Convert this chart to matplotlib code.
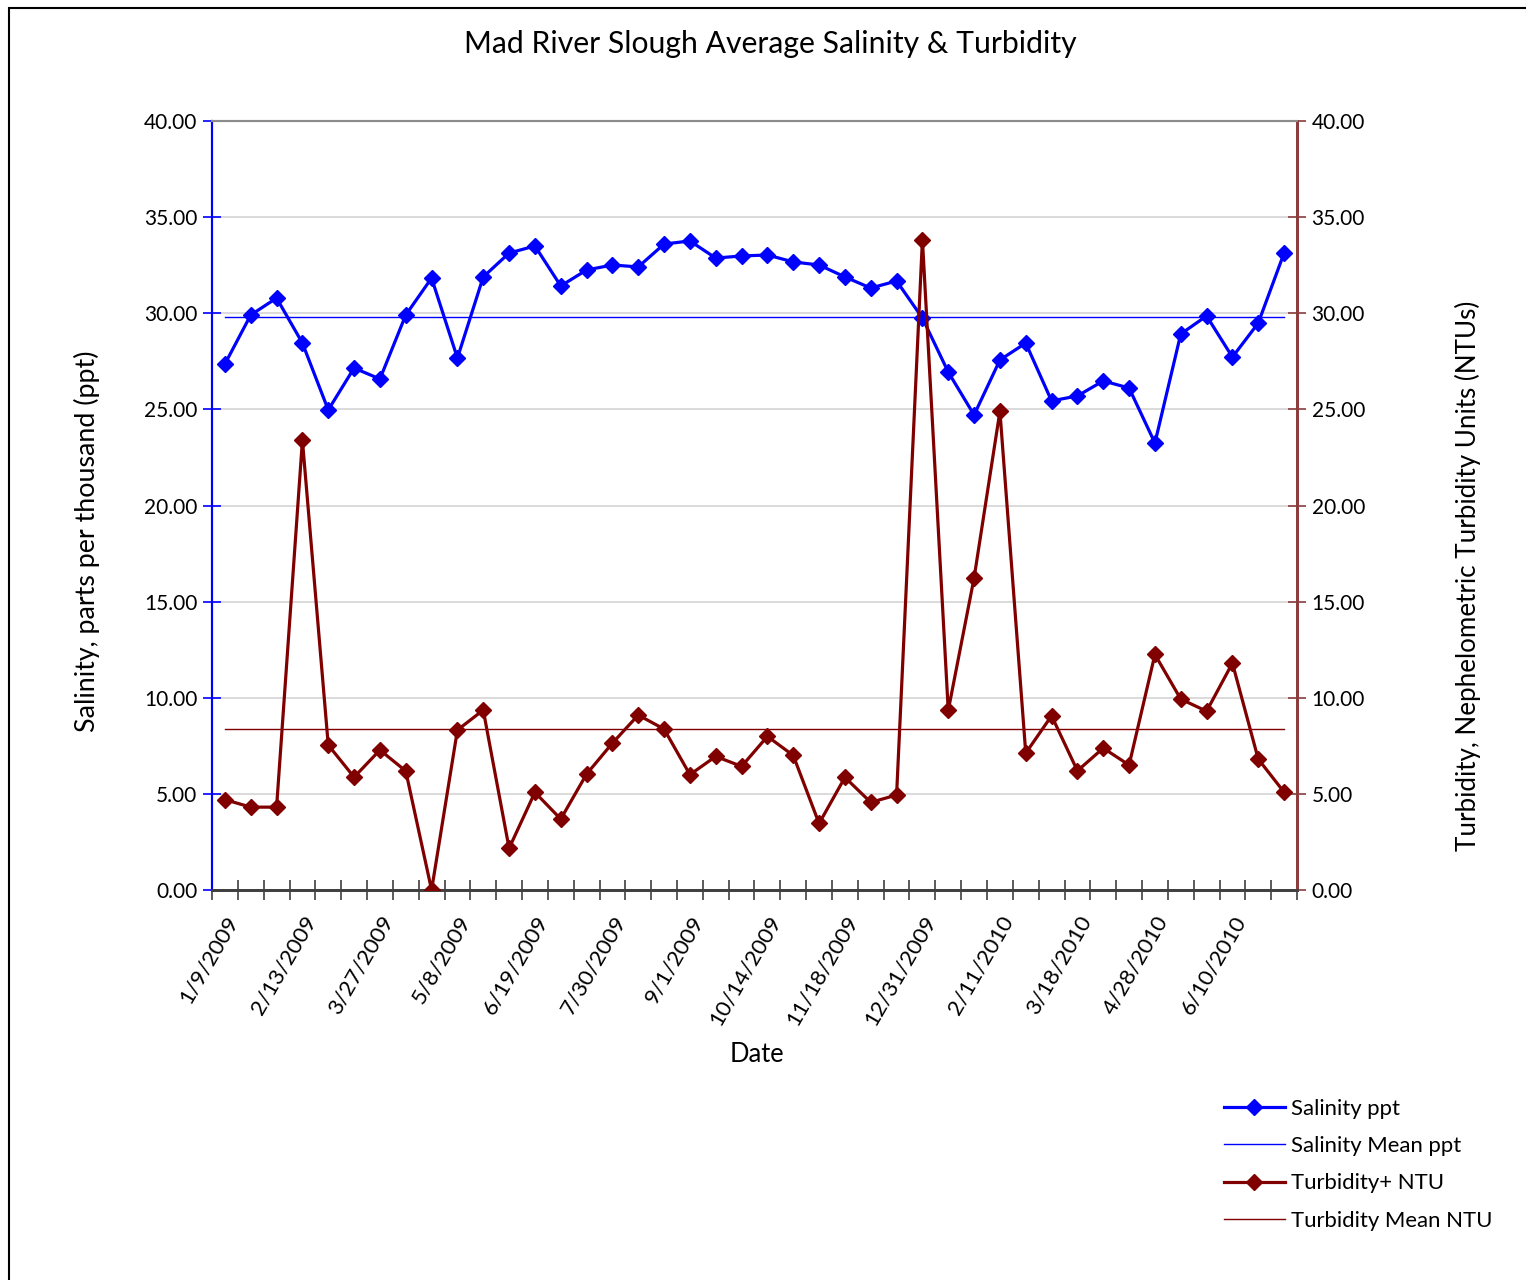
import numpy as np
import matplotlib
matplotlib.use("Agg")
import matplotlib.pyplot as plt
from matplotlib.patches import Rectangle

plt.rcParams['font.family'] = ['Lato', 'DejaVu Sans']

# ---- data ----
tick_labels = ['1/9/2009', '2/13/2009', '3/27/2009', '5/8/2009', '6/19/2009',
               '7/30/2009', '9/1/2009', '10/14/2009', '11/18/2009', '12/31/2009',
               '2/11/2010', '3/18/2010', '4/28/2010', '6/10/2010']
label_every = 3

salinity = [27.36, 29.91, 30.79, 28.45, 24.97, 27.15, 26.58, 29.91, 31.83, 27.67,
            31.89, 33.13, 33.50, 31.42, 32.25, 32.51, 32.41, 33.60, 33.76, 32.87,
            32.98, 33.03, 32.67, 32.51, 31.89, 31.31, 31.68, 29.75, 26.94, 24.71,
            27.57, 28.45, 25.44, 25.70, 26.48, 26.11, 23.25, 28.92, 29.86, 27.72,
            29.49, 33.13]
turbidity = [4.70, 4.31, 4.31, 23.39, 7.54, 5.87, 7.28, 6.19, 0.0, 8.32,
             9.36, 2.17, 5.08, 3.69, 6.03, 7.64, 9.10, 8.37, 6.00, 6.95,
             6.43, 7.99, 7.00, 3.46, 5.86, 4.56, 4.94, 33.83, 9.34, 16.23,
             24.90, 7.12, 9.06, 6.20, 7.38, 6.50, 12.25, 9.93, 9.30, 11.80,
             6.81, 5.09]
salinity_mean = 29.79
turbidity_mean = 8.36

BLUE = '#0000FF'
RED = '#800000'
RIGHT_AXIS = '#8C3C3C'

n = len(salinity)
x = np.arange(n)

fig = plt.figure(figsize=(15.26, 12.80), dpi=100)
ax = fig.add_axes([212 / 1526, 1 - 890 / 1280, (1297 - 212) / 1526, (890 - 121) / 1280])
ax2 = ax.twinx()

# frame around the chart
fig.patches.append(Rectangle((9 / 1526, -0.01), 1.0, 1 - 8 / 1280 + 0.01,
                             transform=fig.transFigure, fill=False,
                             edgecolor='black', linewidth=1.5))

# gridlines
ax.set_ylim(0, 40)
ax2.set_ylim(0, 40)
ax.set_xlim(-0.5, n - 0.5)
ax.set_yticks(np.arange(0, 41, 5))
ax2.set_yticks(np.arange(0, 41, 5))
ax.yaxis.grid(True, color='#D4D4D4', linewidth=1.2)
ax.set_axisbelow(True)

# series
l_sm, = ax.plot([x[0], x[-1]], [salinity_mean, salinity_mean], color=BLUE,
                linewidth=1.0, label='Salinity Mean ppt', zorder=3)
l_sal, = ax.plot(x, salinity, color=BLUE, linewidth=2.3, marker='D', markersize=8,
                 label='Salinity ppt', zorder=4)
l_tm, = ax2.plot([x[0], x[-1]], [turbidity_mean, turbidity_mean], color=RED,
                 linewidth=1.0, label='Turbidity Mean NTU', zorder=3)
l_tur, = ax2.plot(x, turbidity, color=RED, linewidth=2.3, marker='D', markersize=8,
                  label='Turbidity+ NTU', zorder=4)

# y axes
fmt = lambda v: f'{v:.2f}'
ax.set_yticklabels([fmt(v) for v in np.arange(0, 41, 5)])
ax2.set_yticklabels([fmt(v) for v in np.arange(0, 41, 5)])
ax.tick_params(axis='y', direction='inout', length=13, width=1.2, color=BLUE,
               labelsize=15, pad=4)
ax2.tick_params(axis='y', direction='inout', length=13, width=1.2, color=RIGHT_AXIS,
                labelsize=15, pad=4)

for a in (ax, ax2):
    a.spines['left'].set_color(BLUE)
    a.spines['left'].set_linewidth(1.5)
    a.spines['right'].set_color(RIGHT_AXIS)
    a.spines['right'].set_linewidth(2)
    a.spines['top'].set_color('#8C8C8C')
    a.spines['top'].set_linewidth(1.5)
    a.spines['bottom'].set_color('#404040')
    a.spines['bottom'].set_linewidth(2)

# x axis: cross ticks on category boundaries, labels every third category
ax.set_xticks(np.arange(-0.5, n, 1.0))
ax.set_xticklabels([])
ax.tick_params(axis='x', which='major', direction='inout', length=14, width=1.2,
               color='#404040')
ax.set_xticks(x[::label_every], minor=True)
ax.set_xticklabels(tick_labels, minor=True, rotation=60, ha='right',
                   rotation_mode='anchor', fontsize=16)
ax.tick_params(axis='x', which='minor', length=0, pad=16)

ax.set_ylabel('Salinity, parts per thousand (ppt)', fontsize=19.3)
ax.yaxis.set_label_coords((87 - 212) / 1085, (890 - 541) / 769)
ax2.set_ylabel('Turbidity, Nephelometric Turbidity Units (NTUs)', fontsize=18.7)
ax2.yaxis.set_label_coords((1468 - 212) / 1085, (890 - 576) / 769)
for lab in (ax.yaxis.label, ax2.yaxis.label):
    lab.set_verticalalignment('center')
fig.text(757 / 1526, 1 - 1054 / 1280, 'Date', fontsize=18.4, ha='center', va='center')
fig.text(770 / 1526, 1 - 44 / 1280, 'Mad River Slough Average Salinity & Turbidity',
         fontsize=21.7, ha='center', va='center')

fig.legend([l_sal, l_sm, l_tur, l_tm],
           ['Salinity ppt', 'Salinity Mean ppt', 'Turbidity+ NTU', 'Turbidity Mean NTU'],
           loc='upper left', bbox_to_anchor=(1224 / 1526, 1 - 1099 / 1280),
           frameon=False, fontsize=15.9, handlelength=2.75, handletextpad=0.3,
           labelspacing=0.78, borderaxespad=0, borderpad=0)

fig.savefig('out.png', dpi=100)
